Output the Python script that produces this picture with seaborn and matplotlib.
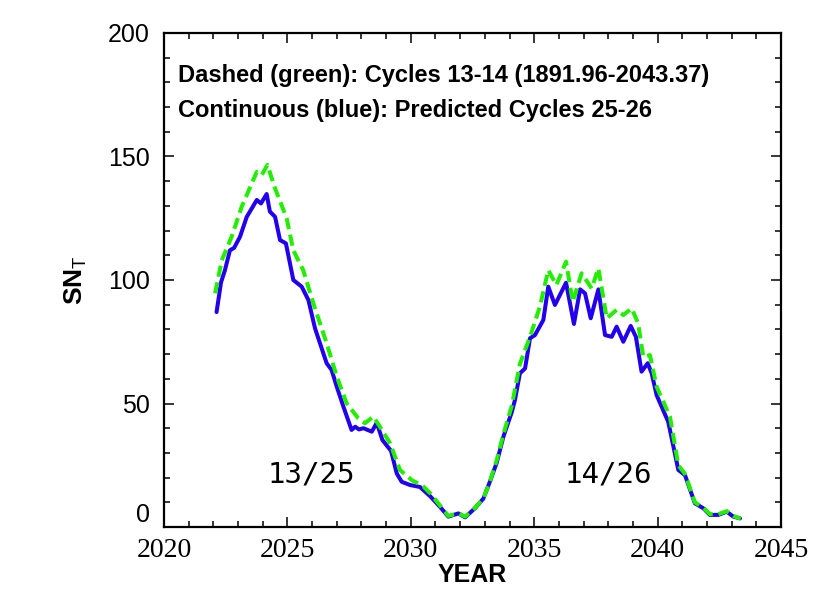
import matplotlib
matplotlib.use("Agg")
import matplotlib.pyplot as plt
from matplotlib.ticker import MultipleLocator, FixedLocator
import seaborn as sns
import pandas as pd

# ---- data ----
years_pred = [2022.13, 2022.31, 2022.47, 2022.67, 2022.84, 2023.08, 2023.35, 2023.76, 2023.93, 2024.16,
              2024.29, 2024.50, 2024.70, 2024.94, 2025.24, 2025.58, 2025.85, 2026.12, 2026.59, 2026.79,
              2027.00, 2027.27, 2027.60, 2027.75, 2027.90, 2028.08, 2028.42, 2028.62, 2028.85, 2029.20,
              2029.43, 2029.63, 2029.97, 2030.37, 2030.78, 2031.18, 2031.52, 2031.93, 2032.20, 2032.60,
              2032.94, 2033.21, 2033.48, 2033.75, 2034.09, 2034.22, 2034.42, 2034.63, 2034.83, 2035.03,
              2035.37, 2035.57, 2035.84, 2036.29, 2036.61, 2036.86, 2037.06, 2037.29, 2037.60, 2037.87,
              2038.14, 2038.34, 2038.61, 2038.91, 2039.12, 2039.35, 2039.60, 2039.76, 2039.96, 2040.43,
              2040.84, 2041.11, 2041.51, 2041.85, 2042.12, 2042.46, 2042.80, 2043.07, 2043.34]
sn_pred = [87, 99, 104, 112, 113, 117.5, 125.5, 132.4, 131, 134.8,
           127.7, 125.6, 116.2, 114.8, 100, 97.3, 91.9, 80.4, 66.3, 63.6,
           56.8, 48.7, 39.3, 40.6, 39.5, 40, 38.6, 42.2, 35.2, 30.8,
           21.7, 18.3, 17, 16.2, 12.5, 8.2, 4.2, 5.5, 3.9, 7.6,
           11.5, 18.5, 26, 36.5, 46.5, 51.4, 62.2, 64.2, 76.4, 77.7,
           83.8, 97.3, 89.9, 98.9, 82.2, 96.2, 94.6, 84.5, 96.2, 77.7,
           77, 81.1, 75, 81.4, 77, 62.9, 66.3, 62.2, 53.4, 42.6,
           23.1, 21, 9.6, 7.6, 4.9, 4.9, 6.2, 4.2, 3.5]

years_hist = [2022.07, 2022.34, 2022.74, 2023.15, 2023.76, 2023.96, 2024.19, 2024.50, 2024.97, 2025.24,
              2025.64, 2026.05, 2026.59, 2027.00, 2027.40, 2027.87, 2028.14, 2028.48, 2028.75, 2029.16,
              2029.56, 2030.04, 2030.50, 2030.80, 2031.20, 2031.52, 2031.93, 2032.20, 2032.60, 2032.94,
              2033.21, 2033.48, 2033.75, 2034.09, 2034.42, 2034.83, 2035.23, 2035.57, 2035.90, 2036.29,
              2036.56, 2036.92, 2037.33, 2037.60, 2037.94, 2038.34, 2038.61, 2038.95, 2039.21, 2039.42,
              2039.69, 2039.96, 2040.50, 2040.84, 2041.11, 2041.51, 2041.85, 2042.12, 2042.46, 2042.80,
              2043.07, 2043.37]
sn_hist = [94.6, 108, 117.5, 129.7, 143.8, 142.5, 146.6, 137.1, 125, 112,
           104, 90.6, 74.4, 60.9, 50.1, 44, 42, 44.7, 40.6, 33.9,
           23.1, 19, 16.5, 13.5, 8.5, 4.5, 5.5, 4.2, 7.8, 11.5,
           18.5, 27, 37.5, 49, 66, 77, 89.2, 104, 98, 107.4,
           91.2, 102.7, 96.6, 104.7, 84.5, 87.9, 85.8, 88.5, 82.5, 68.9,
           69.6, 56.8, 44.7, 25, 21.5, 10, 7.8, 5.2, 5.2, 6.4,
           4.5, 3.3]

y_ticks = [0, 50, 100, 150, 200]
y_tick_labels = ["0", "50", "100", "150", "200"]
legend_lines = ["Dashed (green): Cycles 13-14 (1891.96-2043.37)",
                "Continuous (blue): Predicted Cycles 25-26"]
cycle_labels = ["13/25", "14/26"]
cycle_label_pos = [(2025.96, 18), (2037.99, 18)]

df_pred = pd.DataFrame({"year": years_pred, "sn": sn_pred})
df_hist = pd.DataFrame({"year": years_hist, "sn": sn_hist})

sns.set_theme(style="ticks")
plt.rcParams["font.family"] = ["Liberation Sans", "DejaVu Sans"]
plt.rcParams["mathtext.fontset"] = "custom"
plt.rcParams["mathtext.rm"] = "Liberation Sans"
plt.rcParams["mathtext.bf"] = "Liberation Sans:bold"
for k in ["text.color", "axes.labelcolor", "xtick.color", "ytick.color", "axes.edgecolor"]:
    plt.rcParams[k] = "black"

fig = plt.figure(figsize=(8.3, 5.93), dpi=100)
ax = fig.add_axes([164 / 830, 1 - 527 / 593, (781 - 164) / 830, (527 - 33) / 593])

sns.lineplot(data=df_pred, x="year", y="sn", ax=ax, color="#2200ee", linewidth=2.9, sort=False)
sns.lineplot(data=df_hist, x="year", y="sn", ax=ax, color="#22ee00", linewidth=2.9, sort=False,
             linestyle=(0, (2.8, 1.4)))

ax.set_xlim(2020, 2045)
ax.set_ylim(0, 200)
ax.xaxis.set_major_locator(MultipleLocator(5))
ax.xaxis.set_minor_locator(MultipleLocator(1))
ax.set_yticks(y_ticks)
ax.set_yticklabels(y_tick_labels, fontsize=18, family="Liberation Sans")
ax.yaxis.set_minor_locator(MultipleLocator(10))
ax.tick_params(which="both", direction="in", top=True, right=True, width=1.1, color="black")
ax.tick_params(which="major", length=7)
ax.tick_params(which="minor", length=4)
ax.tick_params(axis="x", which="major", pad=8)
ax.tick_params(axis="y", which="major", pad=10)
for s in ax.spines.values():
    s.set_linewidth(1.6)
    s.set_color("black")

for lab in ax.get_xticklabels():
    lab.set_fontfamily("Liberation Serif")
    lab.set_fontsize(20)
for lab in ax.get_yticklabels():
    if lab.get_text() == "0":
        lab.set_verticalalignment("bottom")

ax.set_xlabel("YEAR", fontsize=18, fontweight="bold", labelpad=0)
ax.set_ylabel(r"$\mathbf{SN}_{\mathrm{T}}$", fontsize=19, labelpad=14)

ax.text(0.022, 0.901, legend_lines[0], transform=ax.transAxes, fontsize=17,
        fontweight="bold", ha="left", va="baseline")
ax.text(0.022, 0.830, legend_lines[1], transform=ax.transAxes, fontsize=17,
        fontweight="bold", ha="left", va="baseline")

for lab, (xx, yy) in zip(cycle_labels, cycle_label_pos):
    ax.text(xx, yy, lab, fontsize=21, family="DejaVu Sans Mono", ha="center", va="baseline")

fig.savefig("out.png", dpi=100)
